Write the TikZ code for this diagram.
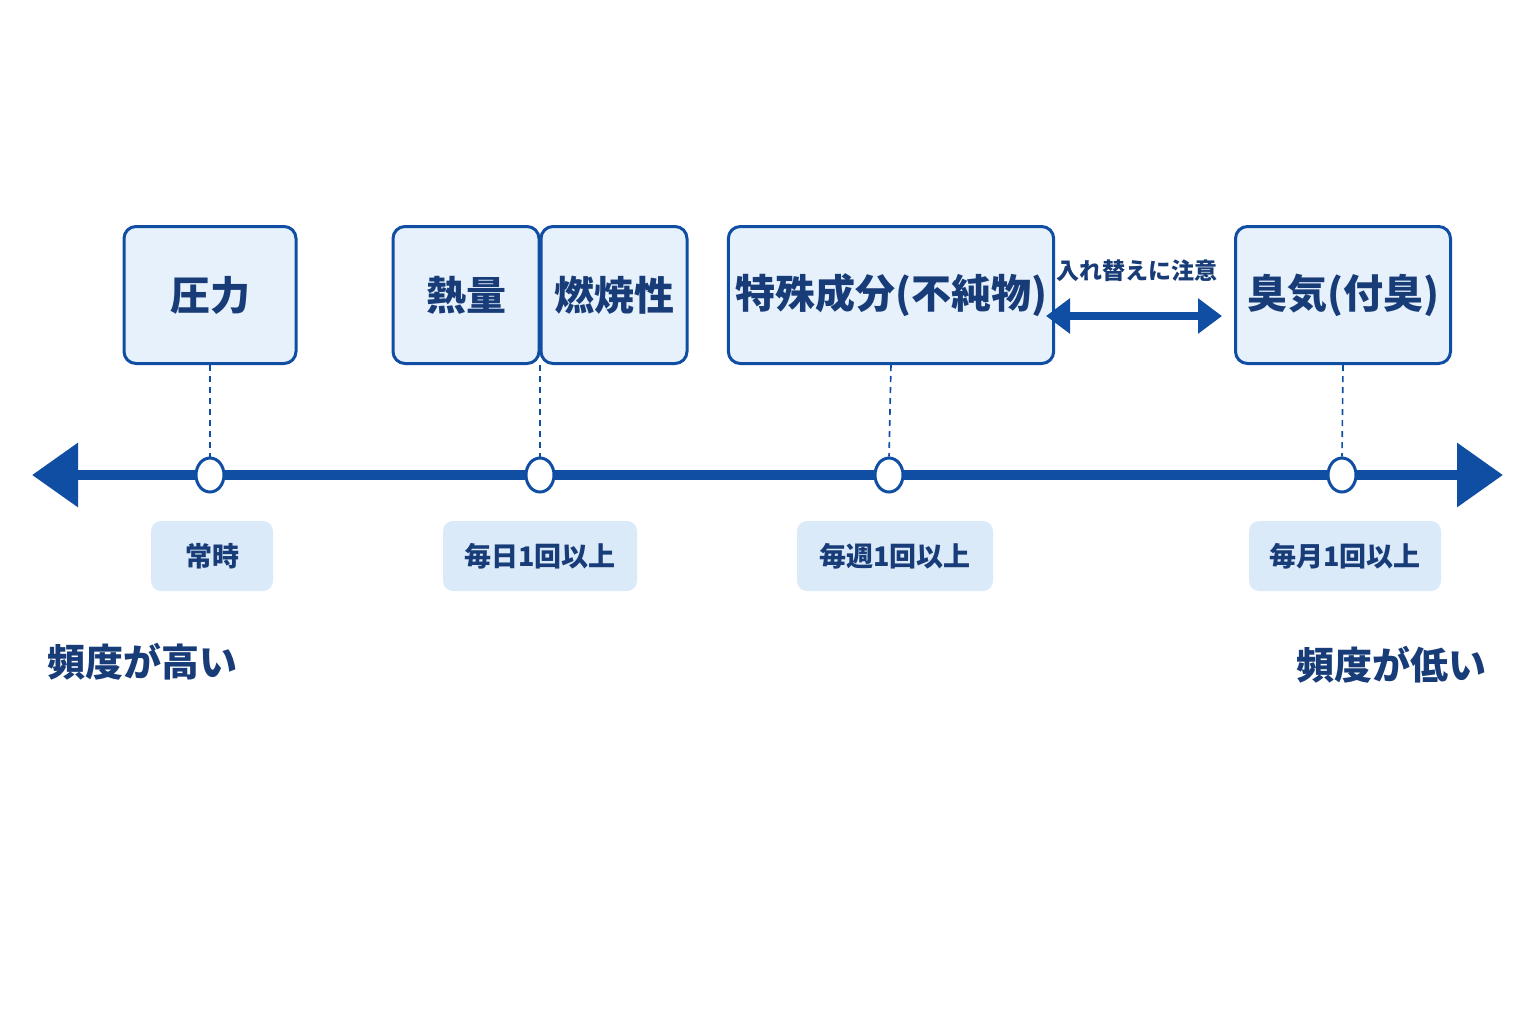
\documentclass[tikz,border=0pt]{standalone}
\usepackage{fontspec}
\setmainfont{Noto Sans CJK JP}
\usetikzlibrary{arrows.meta, positioning, calc, shapes.geometric}
\definecolor{axisblue}{RGB}{16, 78, 164}
\definecolor{textblue}{RGB}{24, 60, 120}
\definecolor{boxfill}{RGB}{230, 241, 252}
\definecolor{tagfill}{RGB}{219, 234, 249}
\begin{document}
\begin{tikzpicture}[
                x = 0.5pt, y = -0.5pt,
                font = \bfseries,
                item/.style = {draw = axisblue, line width = 1.5pt, fill = boxfill,
                    rounded corners = 6pt, minimum height = 68.5pt,
                    text = textblue, font = \fontsize{20}{22}\selectfont\bfseries},
                tag/.style = {fill = tagfill, rounded corners = 5pt,
                    minimum height = 35pt, text = textblue,
                    font = \fontsize{13.5}{15}\selectfont\bfseries},
                point/.style = {ellipse, draw = axisblue, line width = 1.5pt, fill = white,
                    minimum width = 14pt, minimum height = 17pt, inner sep = 0pt},
                link/.style = {draw = axisblue, line width = 0.8pt, dash pattern = on 3pt off 2.5pt},
                extreme/.style = {font = \fontsize{19}{21}\selectfont\bfseries, text = textblue}
                ]
                \useasboundingbox (0,0) rectangle (1536,1024);
                \fill[white] (0,0) rectangle (1536,1024);
                % axis
                \coordinate (axl) at (32,475);
                \coordinate (axr) at (1503,475);
                \draw[axisblue, line width = 5pt,
                    {Triangle[length = 23pt, width = 31pt]}-{Triangle[length = 23pt, width = 31pt]}]
                    (axl) -- (axr);
                % boxes
                \node[item, minimum width = 86pt] (press) at (210,295) {圧力};
                \node[item, minimum width = 73pt] (heat) at (466,295) {熱量};
                \node[item, minimum width = 73pt] (burn) at (614,295) {燃焼性};
                \node[item, minimum width = 139pt] (spec) at (891,295) {特殊成分(不純物)};
                \node[item, minimum width = 107.5pt] (odor) at (1343,295) {臭気(付臭)};
                \coordinate (hb) at ($(heat.south east)!0.5!(burn.south west)$);
                % points on the axis
                \node[point] (p1) at (210,475) {};
                \node[point] (p2) at (540,475) {};
                \node[point] (p3) at (889,475) {};
                \node[point] (p4) at (1342,475) {};
                \draw[link] (press.south) -- (p1.north);
                \draw[link] (hb) -- (p2.north);
                \draw[link] (spec.south) -- (p3.north);
                \draw[link] (odor.south) -- (p4.north);
                % frequency tags
                \node[tag, minimum width = 61pt] (t1) at (212,556) {常時};
                \node[tag, minimum width = 97pt] (t2) at (540,556) {毎日1回以上};
                \node[tag, minimum width = 98pt] (t3) at (895,556) {毎週1回以上};
                \node[tag, minimum width = 96pt] (t4) at (1345,556) {毎月1回以上};
                % swap note
                \coordinate (sl) at (1046,316);
                \coordinate (sr) at (1222,316);
                \draw[axisblue, line width = 4pt,
                    {Triangle[length = 12pt, width = 17pt]}-{Triangle[length = 12pt, width = 17pt]}]
                    (sl) -- (sr);
                \node[text = textblue, font = \fontsize{11.5}{13}\selectfont\bfseries] (swap)
                    at (1137,271) {入れ替えに注意};
                % ends
                \node[extreme, anchor = west] (hi) at (40,662) {頻度が高い};
                \node[extreme, anchor = east] (lo) at (1494,665) {頻度が低い};
            \end{tikzpicture}
\end{document}
